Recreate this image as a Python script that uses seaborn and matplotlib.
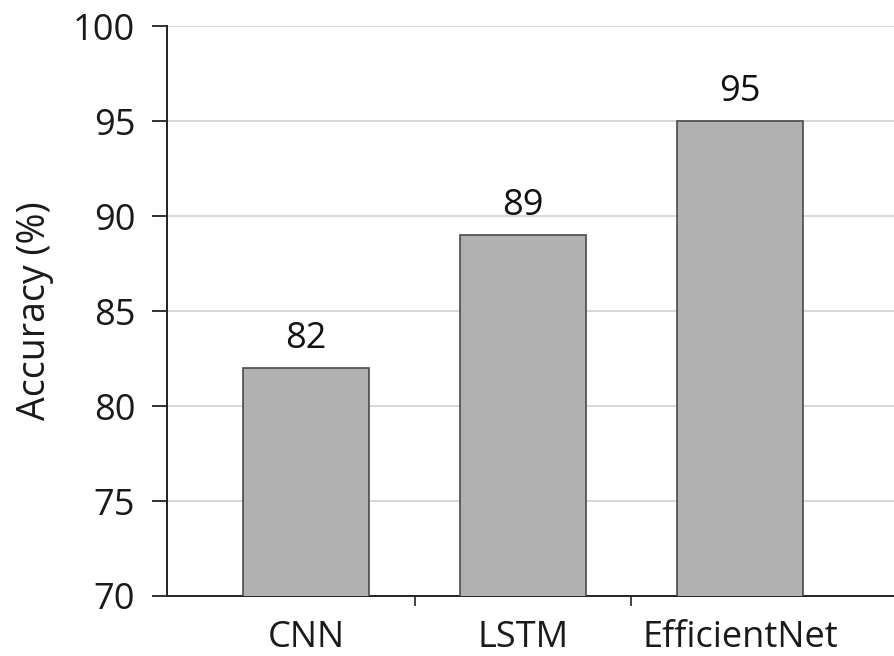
import matplotlib
matplotlib.use("Agg")
import matplotlib.pyplot as plt
import seaborn as sns
import pandas as pd

models = ["CNN", "LSTM", "EfficientNet"]
accuracy = [82, 89, 95]
y_ticks = [70, 75, 80, 85, 90, 95, 100]

sns.set_theme(style="white")
plt.rcParams["font.family"] = ["Open Sans", "DejaVu Sans"]

df = pd.DataFrame({"Model": models, "Accuracy": accuracy})

fig = plt.figure(figsize=(8.94, 6.56), dpi=100)
ax = fig.add_axes([0.187, 0.0915, 0.813, 0.8686])

sns.barplot(data=df, x="Model", y="Accuracy", ax=ax, color="#b1b1b1",
            saturation=1, width=0.58, edgecolor="#4a4a4a", linewidth=1.2,
            zorder=3)

ax.set_ylim(70, 100)
ax.set_xlim(-0.64, 2.71)
ax.set_yticks(y_ticks)
ax.yaxis.grid(True, color="#d6d6d6", linewidth=1.3, zorder=0)
ax.set_axisbelow(True)

for side in ("top", "right"):
    ax.spines[side].set_visible(False)
for side in ("left", "bottom"):
    ax.spines[side].set_color("#222222")
    ax.spines[side].set_linewidth(1.4)

ax.tick_params(axis="y", which="major", direction="out", length=11,
               width=1.3, color="#222222", labelsize=26, pad=12,
               left=True, labelcolor="#1a1a1a")
ax.tick_params(axis="x", which="major", length=0, labelsize=26, pad=17,
               labelcolor="#1a1a1a")
ax.set_xticks([0.5, 1.5], minor=True)
ax.tick_params(axis="x", which="minor", direction="out", length=7,
               width=1.2, color="#222222", bottom=True)

ax.set_xlabel("")
ax.set_ylabel("Accuracy (%)", fontsize=27, color="#1a1a1a", labelpad=14)

for i, v in enumerate(accuracy):
    ax.text(i, v + 0.6, f"{v}", ha="center", va="bottom", fontsize=26,
            color="#111111")

fig.savefig("out.png", dpi=100, facecolor="white")
